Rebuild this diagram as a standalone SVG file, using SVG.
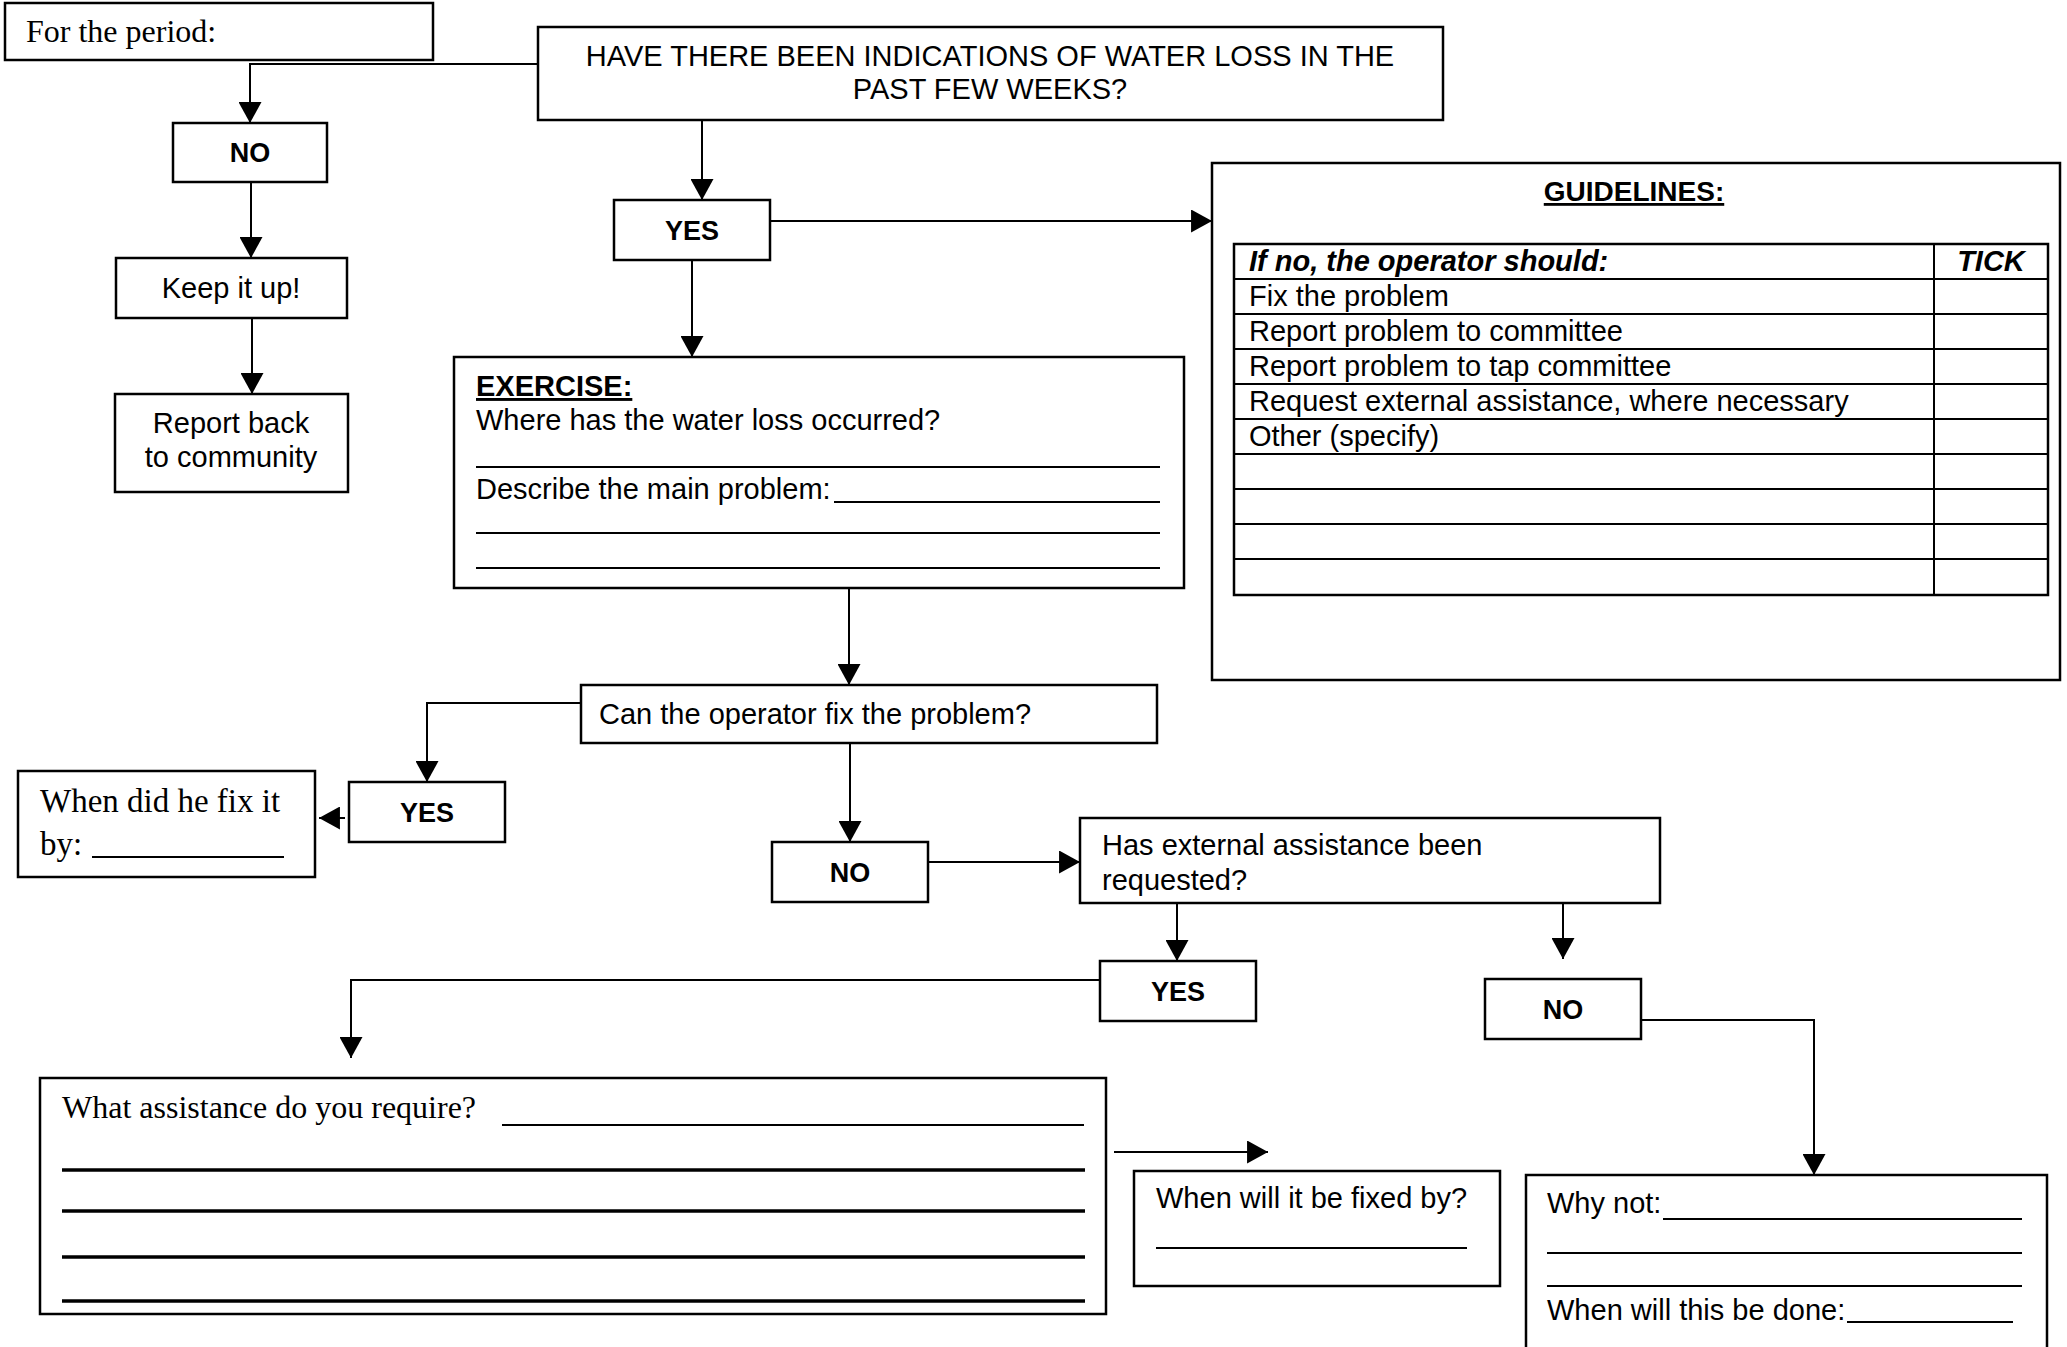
<svg xmlns="http://www.w3.org/2000/svg" width="2067" height="1347" viewBox="0 0 2067 1347">
  <style>
    .box { fill: #ffffff; stroke: #000000; stroke-width: 2.5; }
    .conn { fill: none; stroke: #000000; stroke-width: 2; }
    .rule { stroke: #000000; stroke-width: 2; }
    .heavy { stroke: #000000; stroke-width: 3.5; }
    .grid { stroke: #000000; stroke-width: 2; }
    .sans { font-family: "Liberation Sans", Arial, sans-serif; font-size: 29px; fill: #000000; }
    .bold { font-weight: bold; font-size: 27px; }
    .serif { font-family: "Liberation Serif", "Times New Roman", serif; font-size: 32px; fill: #000000; }
    .mid { text-anchor: middle; }
  </style>
  <defs>
    <marker id="arrow" viewBox="0 0 20 22" refX="20" refY="11" markerWidth="21" markerHeight="23" markerUnits="userSpaceOnUse" orient="auto">
      <path d="M0,0 L20,11 L0,22 z" fill="#000000"/>
    </marker>
  </defs>
  <rect x="0" y="0" width="2067" height="1347" fill="#ffffff"/>

  <!-- connectors -->
  <g id="connectors">
    <path class="conn" d="M538,64 H250 V123" marker-end="url(#arrow)"/>
    <path class="conn" d="M251,182 V258" marker-end="url(#arrow)"/>
    <path class="conn" d="M252,318 V394" marker-end="url(#arrow)"/>
    <path class="conn" d="M702,120 V200" marker-end="url(#arrow)"/>
    <path class="conn" d="M770,221 H1212" marker-end="url(#arrow)"/>
    <path class="conn" d="M692,260 V357" marker-end="url(#arrow)"/>
    <path class="conn" d="M849,588 V685" marker-end="url(#arrow)"/>
    <path class="conn" d="M581,703 H427 V782" marker-end="url(#arrow)"/>
    <path class="conn" d="M345,818 H319" marker-end="url(#arrow)"/>
    <path class="conn" d="M850,743 V842" marker-end="url(#arrow)"/>
    <path class="conn" d="M928,862 H1080" marker-end="url(#arrow)"/>
    <path class="conn" d="M1177,903 V961" marker-end="url(#arrow)"/>
    <path class="conn" d="M1563,903 V959" marker-end="url(#arrow)"/>
    <path class="conn" d="M1100,980 H351 V1058" marker-end="url(#arrow)"/>
    <path class="conn" d="M1114,1152 H1268" marker-end="url(#arrow)"/>
    <path class="conn" d="M1641,1020 H1814 V1175" marker-end="url(#arrow)"/>
  </g>

  <g id="period">
    <rect class="box" x="5" y="3" width="428" height="57"/>
    <text class="serif" x="26" y="42">For the period:</text>
  </g>

  <g id="question-water-loss">
    <rect class="box" x="538" y="27" width="905" height="93"/>
    <text class="sans mid" x="990" y="66">HAVE THERE BEEN INDICATIONS OF WATER LOSS IN THE</text>
    <text class="sans mid" x="990" y="99">PAST FEW WEEKS?</text>
  </g>

  <g id="no-1">
    <rect class="box" x="173" y="123" width="154" height="59"/>
    <text class="sans bold mid" x="250" y="162">NO</text>
  </g>

  <g id="keep-it-up">
    <rect class="box" x="116" y="258" width="231" height="60"/>
    <text class="sans mid" x="231" y="298">Keep it up!</text>
  </g>

  <g id="report-back">
    <rect class="box" x="115" y="394" width="233" height="98"/>
    <text class="sans mid" x="231" y="433">Report back</text>
    <text class="sans mid" x="231" y="467">to community</text>
  </g>

  <g id="yes-1">
    <rect class="box" x="614" y="200" width="156" height="60"/>
    <text class="sans bold mid" x="692" y="240">YES</text>
  </g>

  <g id="guidelines">
    <rect class="box" x="1212" y="163" width="848" height="517"/>
    <text class="sans bold mid" x="1634" y="201" text-decoration="underline" style="font-size:28px">GUIDELINES:</text>
    <rect x="1234" y="244" width="814" height="351" fill="none" stroke="#000000" stroke-width="2.5"/>
    <line class="grid" x1="1934" y1="244" x2="1934" y2="595"/>
    <line class="grid" x1="1234" y1="279" x2="2048" y2="279"/>
    <line class="grid" x1="1234" y1="314" x2="2048" y2="314"/>
    <line class="grid" x1="1234" y1="349" x2="2048" y2="349"/>
    <line class="grid" x1="1234" y1="384" x2="2048" y2="384"/>
    <line class="grid" x1="1234" y1="419" x2="2048" y2="419"/>
    <line class="grid" x1="1234" y1="454" x2="2048" y2="454"/>
    <line class="grid" x1="1234" y1="489" x2="2048" y2="489"/>
    <line class="grid" x1="1234" y1="524" x2="2048" y2="524"/>
    <line class="grid" x1="1234" y1="559" x2="2048" y2="559"/>
    <text class="sans" x="1249" y="271" font-weight="bold" font-style="italic">If no, the operator should:</text>
    <text class="sans mid" x="1991" y="271" font-weight="bold" font-style="italic">TICK</text>
    <text class="sans" x="1249" y="306">Fix the problem</text>
    <text class="sans" x="1249" y="341">Report problem to committee</text>
    <text class="sans" x="1249" y="376">Report problem to tap committee</text>
    <text class="sans" x="1249" y="411">Request external assistance, where necessary</text>
    <text class="sans" x="1249" y="446">Other (specify)</text>
  </g>

  <g id="exercise">
    <rect class="box" x="454" y="357" width="730" height="231"/>
    <text class="sans" x="476" y="396" font-weight="bold" text-decoration="underline">EXERCISE:</text>
    <text class="sans" x="476" y="430">Where has the water loss occurred?</text>
    <line class="rule" x1="476" y1="467" x2="1160" y2="467"/>
    <text class="sans" x="476" y="499">Describe the main problem:</text>
    <line class="rule" x1="834" y1="502" x2="1160" y2="502"/>
    <line class="rule" x1="476" y1="533" x2="1160" y2="533"/>
    <line class="rule" x1="476" y1="568" x2="1160" y2="568"/>
  </g>

  <g id="can-operator-fix">
    <rect class="box" x="581" y="685" width="576" height="58"/>
    <text class="sans" x="599" y="724">Can the operator fix the problem?</text>
  </g>

  <g id="yes-2">
    <rect class="box" x="349" y="782" width="156" height="60"/>
    <text class="sans bold mid" x="427" y="822">YES</text>
  </g>

  <g id="when-fixed">
    <rect class="box" x="18" y="771" width="297" height="106"/>
    <text class="serif" x="40" y="812" style="font-size:33px">When did he fix it</text>
    <text class="serif" x="40" y="855" style="font-size:33px">by:</text>
    <line class="rule" x1="92" y1="857" x2="284" y2="857"/>
  </g>

  <g id="no-2">
    <rect class="box" x="772" y="842" width="156" height="60"/>
    <text class="sans bold mid" x="850" y="882">NO</text>
  </g>

  <g id="external-assistance">
    <rect class="box" x="1080" y="818" width="580" height="85"/>
    <text class="sans" x="1102" y="855">Has external assistance been</text>
    <text class="sans" x="1102" y="890">requested?</text>
  </g>

  <g id="yes-3">
    <rect class="box" x="1100" y="961" width="156" height="60"/>
    <text class="sans bold mid" x="1178" y="1001">YES</text>
  </g>

  <g id="no-3">
    <rect class="box" x="1485" y="979" width="156" height="60"/>
    <text class="sans bold mid" x="1563" y="1019">NO</text>
  </g>

  <g id="assistance-required">
    <rect class="box" x="40" y="1078" width="1066" height="236"/>
    <text class="serif" x="62" y="1118">What assistance do you require?</text>
    <line class="rule" x1="502" y1="1125" x2="1084" y2="1125"/>
    <line class="heavy" x1="62" y1="1170" x2="1085" y2="1170"/>
    <line class="heavy" x1="62" y1="1211" x2="1085" y2="1211"/>
    <line class="heavy" x1="62" y1="1257" x2="1085" y2="1257"/>
    <line class="heavy" x1="62" y1="1301" x2="1085" y2="1301"/>
  </g>

  <g id="fix-date">
    <rect class="box" x="1134" y="1171" width="366" height="115"/>
    <text class="sans" x="1156" y="1208">When will it be fixed by?</text>
    <line class="rule" x1="1156" y1="1248" x2="1467" y2="1248"/>
  </g>

  <g id="why-not">
    <rect class="box" x="1526" y="1175" width="521" height="190"/>
    <text class="sans" x="1547" y="1213">Why not:</text>
    <line class="rule" x1="1663" y1="1219" x2="2022" y2="1219"/>
    <line class="rule" x1="1547" y1="1253" x2="2022" y2="1253"/>
    <line class="rule" x1="1547" y1="1286" x2="2022" y2="1286"/>
    <text class="sans" x="1547" y="1320">When will this be done:</text>
    <line class="rule" x1="1847" y1="1322" x2="2013" y2="1322"/>
  </g>
</svg>
